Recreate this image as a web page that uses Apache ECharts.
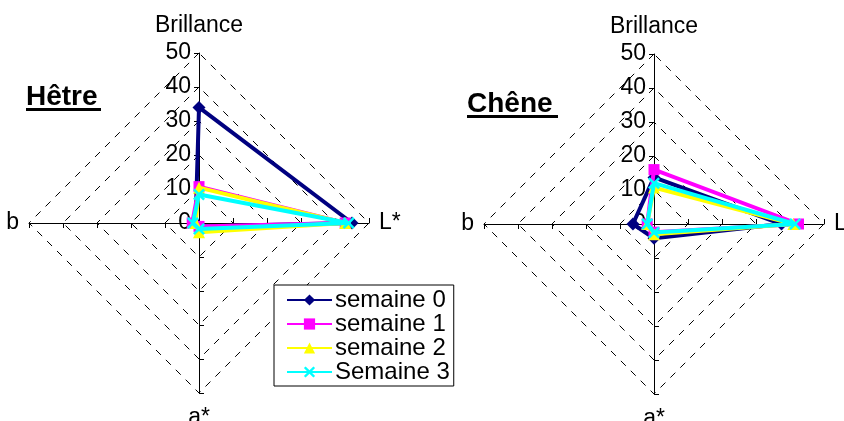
<!DOCTYPE html>
<html><head><meta charset="utf-8">
<script src="https://cdn.jsdelivr.net/npm/echarts@6/dist/echarts.min.js"></script>
<style>html,body{margin:0;padding:0;background:#fff}#c{width:844px;height:421px}</style>
</head><body><div id="c"></div>
<script>
// Indicator order as drawn (counter-clockwise from top): Brillance, b, a*, L*
const indicatorNames = ['Brillance', 'b', 'a*', 'L*'];
const seriesNames = ['semaine 0', 'semaine 1', 'semaine 2', 'Semaine 3'];
const tickLabels = ['0', '10', '20', '30', '40', '50'];
// values: [Brillance, b, a*, L*]
const hetre0 = [34, 1, 1, 45];
const hetre1 = [10.7, 2, 1, 43];
const hetre2 = [10.4, 1, 2.7, 43];
const hetre3 = [8.4, 1.8, 1.8, 44];
const chene0 = [13.7, 6.2, 4.2, 37.5];
const chene1 = [16, 2, 2.4, 42.5];
const chene2 = [10.7, 2, 3, 41];
const chene3 = [12, 2, 2.5, 41.5];

const colors = ['#000080', '#FF00FF', '#FFFF00', '#00FFFF'];
const xPath = 'path://M0,1.5L1.5,0L5,3.5L8.5,0L10,1.5L6.5,5L10,8.5L8.5,10L5,6.5L1.5,10L0,8.5L3.5,5Z';
const symbols = ['diamond', 'rect', 'triangle', xPath];
const symSizes = [13, 11, 12, 12];
const FONT = "'Liberation Sans', Arial, sans-serif";
const maxVal = 50;

function makeRadar(center) {
  return {
    center: center, radius: 170, shape: 'polygon', startAngle: 90,
    splitNumber: 5,
    indicator: indicatorNames.map((n, i) => {
      const o = { name: n, min: 0, max: maxVal };
      if (i === 0) { o.axisLabel = { show: true }; o.nameGap = 16; }
      else if (i === 2) { o.nameGap = 13; }
      else { o.nameGap = 10; }
      return o;
    }),
    axisName: { color: '#000', fontSize: 23, fontFamily: FONT },
    axisLine: { lineStyle: { color: '#000', width: 1 } },
    axisTick: { show: true, length: 5, lineStyle: { color: '#000' } },
    axisLabel: { show: false, color: '#000', fontSize: 23, fontFamily: FONT, margin: 8,
      formatter: v => tickLabels[Math.round(v / 10)] },
    splitLine: { lineStyle: { color: '#000', width: 1, type: [7, 7] } },
    splitArea: { show: false }
  };
}

const hetre = [hetre0, hetre1, hetre2, hetre3];
const chene = [chene0, chene1, chene2, chene3];

const series = [];
// dummy line series for legend icons
seriesNames.forEach((n, i) => {
  series.push({ type: 'line', name: n, data: [], xAxisIndex: 0, yAxisIndex: 0,
    symbol: symbols[i], symbolSize: symSizes[i],
    lineStyle: { color: colors[i], width: 4 }, itemStyle: { color: colors[i] } });
});
[hetre, chene].forEach((set, r) => {
  set.forEach((vals, i) => {
    series.push({
      type: 'radar', radarIndex: r, name: seriesNames[i],
      symbol: symbols[i], symbolSize: symSizes[i],
      lineStyle: { color: colors[i], width: 4 },
      itemStyle: { color: colors[i] },
      data: [{ value: vals, name: seriesNames[i] }],
      z: 2 + i
    });
  });
});

const chart = echarts.init(document.getElementById('c'));
chart.setOption({
  animation: false,
  backgroundColor: '#fff',
  textStyle: { fontFamily: FONT },
  grid: { left: 0, top: 0, width: 1, height: 1, show: false },
  xAxis: { show: false, type: 'value' },
  yAxis: { show: false, type: 'value' },
  title: [
    { text: 'Hêtre', left: 21, top: 78, textStyle: { fontSize: 28, fontWeight: 'bold', color: '#000', fontFamily: FONT } },
    { text: 'Chêne', left: 462, top: 85, textStyle: { fontSize: 28, fontWeight: 'bold', color: '#000', fontFamily: FONT } }
  ],
  graphic: [
    { type: 'rect', shape: { x: 26, y: 108, width: 75, height: 3 }, style: { fill: '#000' } },
    { type: 'rect', shape: { x: 467, y: 115, width: 91, height: 3 }, style: { fill: '#000' } }
  ],
  legend: {
    data: seriesNames, orient: 'vertical', left: 274, top: 285,
    width: 182, itemWidth: 45, itemHeight: 14, itemGap: 0,
    padding: [3, 4, 2, 12],
    borderColor: '#000', borderWidth: 1, backgroundColor: '#fff',
    selectedMode: false,
    textStyle: { fontSize: 24, lineHeight: 24, color: '#000', fontFamily: FONT, padding: [0, 0, 0, -2] }
  },
  radar: [makeRadar([199, 223]), makeRadar([654, 224])],
  series: series
});
</script></body></html>
